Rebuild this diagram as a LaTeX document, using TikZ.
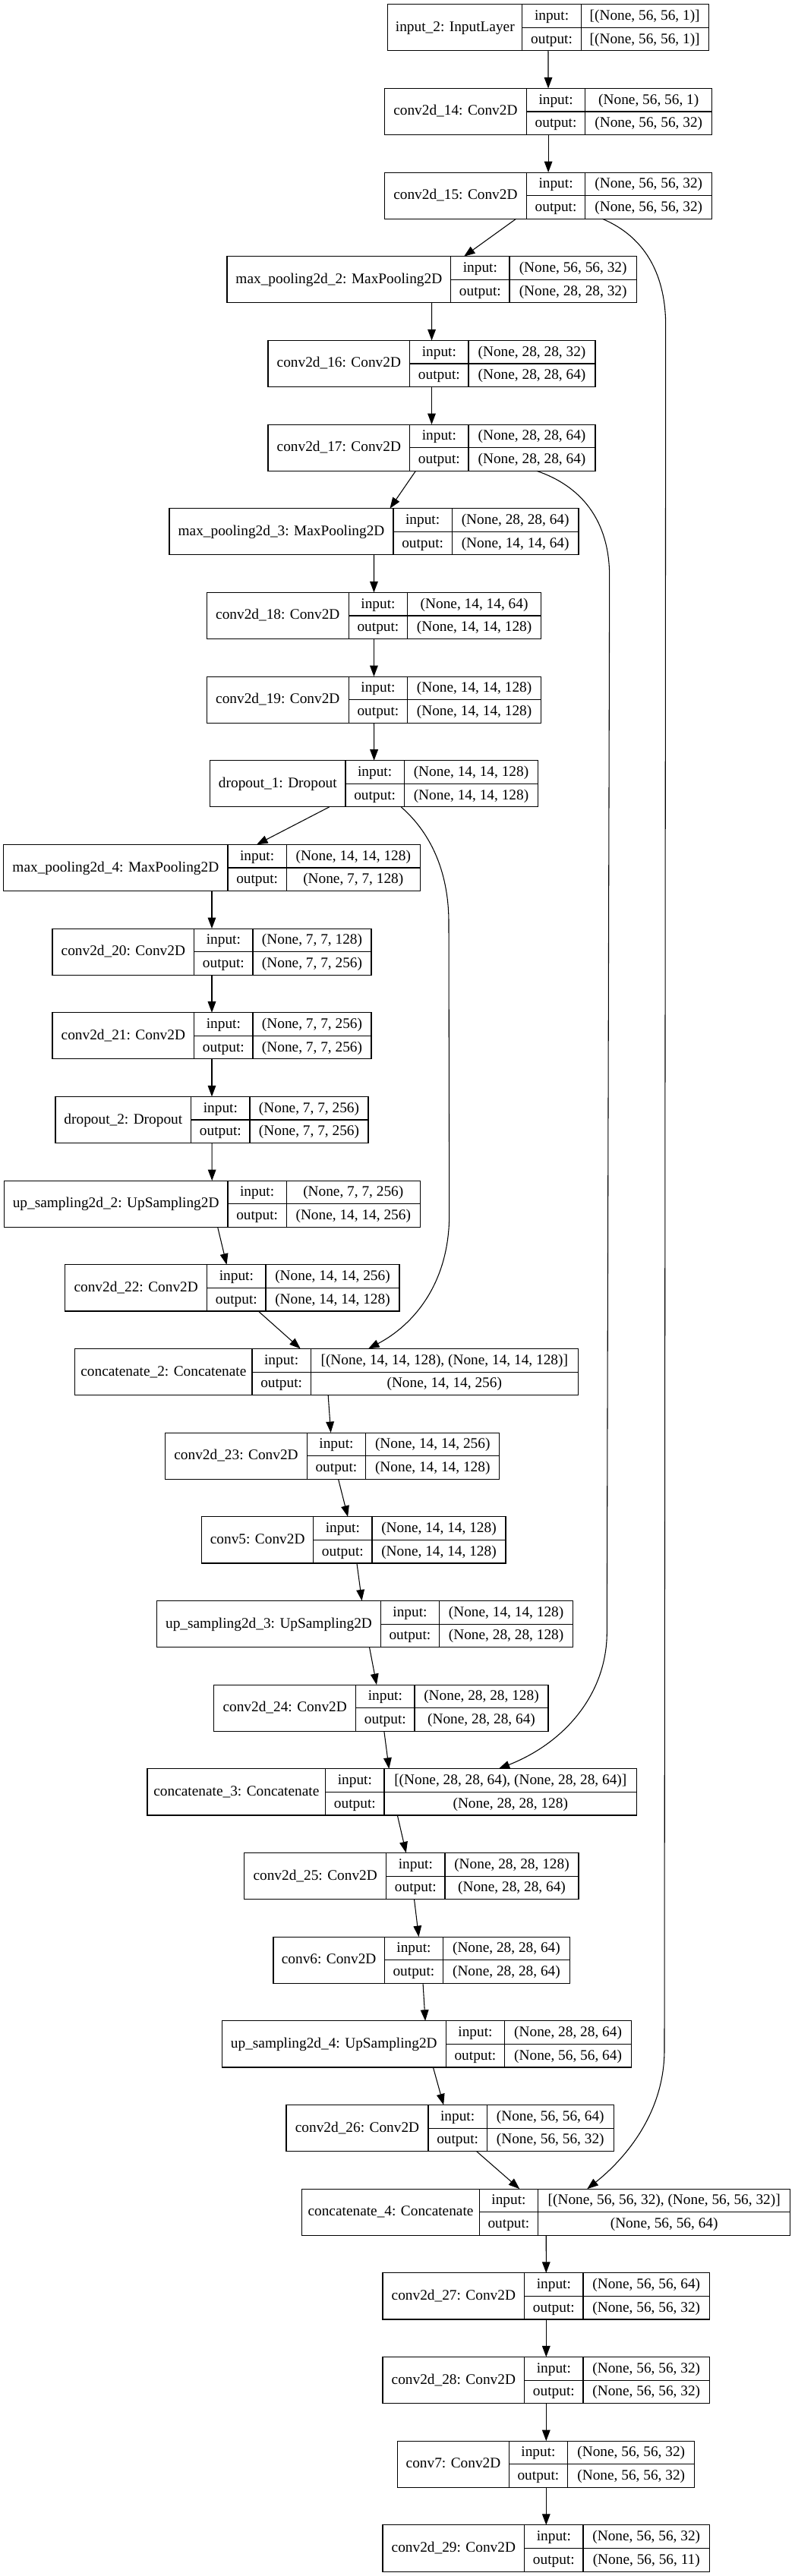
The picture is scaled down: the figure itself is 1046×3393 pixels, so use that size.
\documentclass[tikz,border=0pt]{standalone}
\usepackage{fontspec}
\setmainfont{Liberation Serif}
\usetikzlibrary{arrows.meta,calc}
\tikzset{
  lbox/.style={draw=black, line width=0.8pt, rectangle, inner sep=0pt, outer sep=0pt, minimum height=45.9pt},
  inner/.style={draw=black, line width=0.8pt},
  txt/.style={anchor=base, inner sep=0pt, font=\fontsize{14.5}{17}\selectfont},
  conn/.style={draw=black, line width=0.8pt, -{Triangle[length=10.9pt,width=8pt]}}
}
% #1 name, #2 row, #3 left, #4 label col width, #5 value col width, #6 label, #7 input, #8 output
\newcommand\layer[8]{%
  \pgfmathsetmacro\lyT{5.7+110.67*#2}%
  \pgfmathsetmacro\lyB{\lyT+61.2}%
  \pgfmathsetmacro\lyM{\lyT+30.6}%
  \pgfmathsetmacro\lyA{#3+#4}%
  \pgfmathsetmacro\lyC{\lyA+77.3}%
  \pgfmathsetmacro\lyR{\lyC+#5}%
  \pgfmathsetmacro\lyX{(#3+\lyR)/2}%
  \pgfmathsetmacro\lyW{(\lyR-#3)*0.75}%
  \node[lbox, minimum width=\lyW pt] (#1) at (\lyX,\lyM) {};
  \draw[inner] (\lyA,\lyT) -- (\lyA,\lyB) (\lyC,\lyT) -- (\lyC,\lyB) (\lyA,\lyM) -- (\lyR,\lyM);
  \node[txt] at ({#3+#4/2},{\lyM+5}) {#6};
  \node[txt] at ({\lyA+38.65},{\lyT+20.8}) {input:};
  \node[txt] at ({\lyA+38.65},{\lyT+51.5}) {output:};
  \node[txt] at ({\lyC+#5/2},{\lyT+20.8}) {#7};
  \node[txt] at ({\lyC+#5/2},{\lyT+51.5}) {#8};
}
\begin{document}
\begin{tikzpicture}[x=0.75pt,y=-0.75pt]
\useasboundingbox (0,0) rectangle (1046,3393);
\fill[white] (0,0) rectangle (1046,3393);

\layer{in2}{0}{510.7}{177.2}{167.9}{input\_2: InputLayer}{[(None, 56, 56, 1)]}{[(None, 56, 56, 1)]}
\layer{c14}{1}{506.4}{187}{167.1}{conv2d\_14: Conv2D}{(None, 56, 56, 1)}{(None, 56, 56, 32)}
\layer{c15}{2}{506.4}{187}{167.1}{conv2d\_15: Conv2D}{(None, 56, 56, 32)}{(None, 56, 56, 32)}
\layer{mp2}{3}{299}{294.7}{167.3}{max\_pooling2d\_2: MaxPooling2D}{(None, 56, 56, 32)}{(None, 28, 28, 32)}
\layer{c16}{4}{353}{186.7}{167}{conv2d\_16: Conv2D}{(None, 28, 28, 32)}{(None, 28, 28, 64)}
\layer{c17}{5}{353}{186.7}{167}{conv2d\_17: Conv2D}{(None, 28, 28, 64)}{(None, 28, 28, 64)}
\layer{mp3}{6}{223}{295}{166.7}{max\_pooling2d\_3: MaxPooling2D}{(None, 28, 28, 64)}{(None, 14, 14, 64)}
\layer{c18}{7}{272.3}{187}{176}{conv2d\_18: Conv2D}{(None, 14, 14, 64)}{(None, 14, 14, 128)}
\layer{c19}{8}{272.3}{187}{176}{conv2d\_19: Conv2D}{(None, 14, 14, 128)}{(None, 14, 14, 128)}
\layer{do1}{9}{276.7}{178.3}{176.4}{dropout\_1: Dropout}{(None, 14, 14, 128)}{(None, 14, 14, 128)}
\layer{mp4}{10}{4.7}{295.3}{176}{max\_pooling2d\_4: MaxPooling2D}{(None, 14, 14, 128)}{(None, 7, 7, 128)}
\layer{c20}{11}{69}{186.7}{156}{conv2d\_20: Conv2D}{(None, 7, 7, 128)}{(None, 7, 7, 256)}
\layer{c21}{12}{69}{186.7}{156}{conv2d\_21: Conv2D}{(None, 7, 7, 256)}{(None, 7, 7, 256)}
\layer{do2}{13}{73}{178.7}{156}{dropout\_2: Dropout}{(None, 7, 7, 256)}{(None, 7, 7, 256)}
\layer{up2}{14}{5.3}{294.7}{176}{up\_sampling2d\_2: UpSampling2D}{(None, 7, 7, 256)}{(None, 14, 14, 256)}
\layer{c22}{15}{85.7}{187}{176}{conv2d\_22: Conv2D}{(None, 14, 14, 256)}{(None, 14, 14, 128)}
\layer{cat2}{16}{98.7}{233.3}{352}{concatenate\_2: Concatenate}{[(None, 14, 14, 128), (None, 14, 14, 128)]}{(None, 14, 14, 256)}
\layer{c23}{17}{217.7}{186.6}{176.3}{conv2d\_23: Conv2D}{(None, 14, 14, 256)}{(None, 14, 14, 128)}
\layer{c5}{18}{265.7}{147}{176}{conv5: Conv2D}{(None, 14, 14, 128)}{(None, 14, 14, 128)}
\layer{up3}{19}{206.7}{294.6}{176}{up\_sampling2d\_3: UpSampling2D}{(None, 14, 14, 128)}{(None, 28, 28, 128)}
\layer{c24}{20}{281.7}{187}{176}{conv2d\_24: Conv2D}{(None, 28, 28, 128)}{(None, 28, 28, 64)}
\layer{cat3}{21}{194}{234.7}{332.6}{concatenate\_3: Concatenate}{[(None, 28, 28, 64), (None, 28, 28, 64)]}{(None, 28, 28, 128)}
\layer{c25}{22}{321.7}{187}{176}{conv2d\_25: Conv2D}{(None, 28, 28, 128)}{(None, 28, 28, 64)}
\layer{c6}{23}{360}{146.3}{166.7}{conv6: Conv2D}{(None, 28, 28, 64)}{(None, 28, 28, 64)}
\layer{up4}{24}{292.3}{295}{167}{up\_sampling2d\_4: UpSampling2D}{(None, 28, 28, 64)}{(None, 56, 56, 64)}
\layer{c26}{25}{377}{187}{167}{conv2d\_26: Conv2D}{(None, 56, 56, 64)}{(None, 56, 56, 32)}
\layer{cat4}{26}{397.7}{233.6}{332.2}{concatenate\_4: Concatenate}{[(None, 56, 56, 32), (None, 56, 56, 32)]}{(None, 56, 56, 64)}
\layer{c27}{27}{504}{186.7}{166.6}{conv2d\_27: Conv2D}{(None, 56, 56, 64)}{(None, 56, 56, 32)}
\layer{c28}{28}{504}{186.7}{166.6}{conv2d\_28: Conv2D}{(None, 56, 56, 32)}{(None, 56, 56, 32)}
\layer{c7}{29}{523.7}{146.6}{167.3}{conv7: Conv2D}{(None, 56, 56, 32)}{(None, 56, 56, 32)}
\layer{c29}{30}{504}{186.7}{166.6}{conv2d\_29: Conv2D}{(None, 56, 56, 32)}{(None, 56, 56, 11)}

% straight connectors
\draw[conn] (in2) -- (c14);
\draw[conn] (c14) -- (c15);
\draw[conn] (c15) -- (mp2);
\draw[conn] (mp2) -- (c16);
\draw[conn] (c16) -- (c17);
\draw[conn] (c17) -- (mp3);
\draw[conn] (mp3) -- (c18);
\draw[conn] (c18) -- (c19);
\draw[conn] (c19) -- (do1);
\draw[conn] (do1) -- (mp4);
\draw[conn] (mp4) -- (c20);
\draw[conn] (c20) -- (c21);
\draw[conn] (c21) -- (do2);
\draw[conn] (do2) -- (up2);
\draw[conn] (up2) -- (c22);
\draw[conn] (c22) -- (cat2);
\draw[conn] (cat2) -- (c23);
\draw[conn] (c23) -- (c5);
\draw[conn] (c5) -- (up3);
\draw[conn] (up3) -- (c24);
\draw[conn] (c24) -- (cat3);
\draw[conn] (cat3) -- (c25);
\draw[conn] (c25) -- (c6);
\draw[conn] (c6) -- (up4);
\draw[conn] (up4) -- (c26);
\draw[conn] (c26) -- (cat4);
\draw[conn] (cat4) -- (c27);
\draw[conn] (c27) -- (c28);
\draw[conn] (c28) -- (c7);
\draw[conn] (c7) -- (c29);

% skip connectors
\draw[conn] (c15.south -| 793.3,0) .. controls (852,313) and (877,365) .. (876.7,430)
  -- (875,2700) .. controls (875,2790) and (815,2850) .. (cat4.north -| 773.3,0);
\draw[conn] (c17.south -| 706.7,0) .. controls (765,640) and (803,685) .. (802.7,760)
  -- (799.3,2150) .. controls (799.3,2230) and (745,2295) .. (cat3.north -| 656.7,0);
\draw[conn] (do1.south -| 528.3,0) .. controls (565,1095) and (591,1145) .. (591,1215)
  -- (591.7,1600) .. controls (591.7,1690) and (545,1745) .. (cat2.north -| 485,0);
\end{tikzpicture}
\end{document}
